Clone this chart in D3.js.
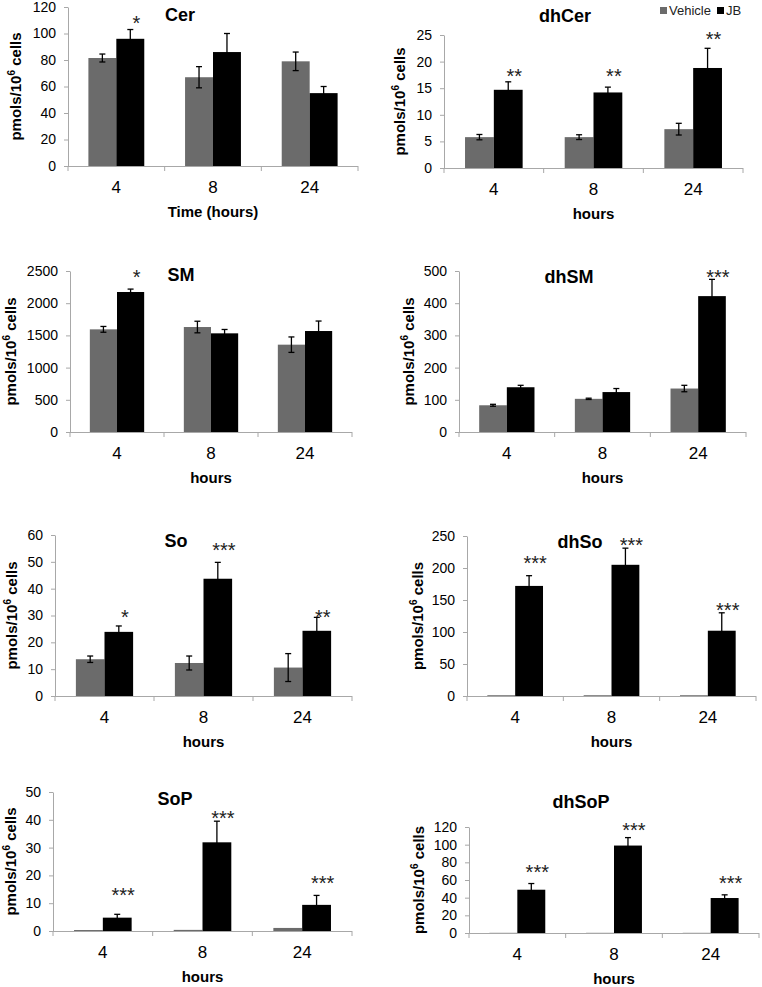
<!DOCTYPE html>
<html>
<head>
<meta charset="utf-8">
<script src="https://cdn.jsdelivr.net/npm/d3@7"></script>
<style>
  body { margin: 0; background: #fff; }
  svg { display: block; font-family: "Liberation Sans", Arial, sans-serif; }
</style>
</head>
<body>
<div id="chart"></div>
<script>
// time points and groups
var hours = ["4", "8", "24"];
var groups = ["Vehicle", "JB"];

// values (pmols / 10^6 cells)
var cerVehicle = [81.5, 67, 79];
var cerVehicleErr = [3, 8, 7];
var cerJB = [96, 86, 55];
var cerJBErr = [7, 14, 5];
var cerStars = ["*", "", ""];
var cerStarAt = [112, 0, 0];

var dhCerVehicle = [5.8, 5.8, 7.3];
var dhCerVehicleErr = [0.5, 0.45, 1.1];
var dhCerJB = [14.7, 14.2, 18.8];
var dhCerJBErr = [1.5, 1.0, 3.7];
var dhCerStars = ["**", "**", "**"];
var dhCerStarAt = [18.2, 18.2, 25.2];

var smVehicle = [1594, 1630, 1356];
var smVehicleErr = [45, 90, 120];
var smJB = [2174, 1532, 1568];
var smJBErr = [45, 60, 155];
var smStars = ["*", "", ""];
var smStarAt = [2484, 0, 0];

var dhSmVehicle = [83, 103, 135];
var dhSmVehicleErr = [3, 2, 10];
var dhSmJB = [139, 124, 422];
var dhSmJBErr = [6, 11, 52];
var dhSmStars = ["", "", "***"];
var dhSmStarAt = [0, 0, 497];

var soVehicle = [13.7, 12.3, 10.6];
var soVehicleErr = [1.2, 2.6, 5.2];
var soJB = [23.9, 43.7, 24.3];
var soJBErr = [2.2, 6.1, 5];
var soStars = ["*", "***", "**"];
var soStarAt = [31.3, 56.3, 31.3];

var dhSoVehicle = [1.2, 1.2, 1.2];
var dhSoVehicleErr = [0, 0, 0];
var dhSoJB = [172, 205, 102];
var dhSoJBErr = [16, 26, 28];
var dhSoStars = ["***", "***", "***"];
var dhSoStarAt = [215, 244, 142];

var sopVehicle = [0.35, 0.4, 1.1];
var sopVehicleErr = [0, 0, 0];
var sopJB = [4.8, 31.9, 9.4];
var sopJBErr = [1.2, 7.6, 3.4];
var sopStars = ["***", "***", "***"];
var sopStarAt = [14.7, 42.4, 19];

var dhSopVehicle = [0.2, 0.2, 0.2];
var dhSopVehicleErr = [0, 0, 0];
var dhSopJB = [49, 99, 39.6];
var dhSopJBErr = [7, 9, 3.6];
var dhSopStars = ["***", "***", "***"];
var dhSopStarAt = [74.7, 122, 62.3];

var W = 762, H = 987;
var colors = {Vehicle: "#6b6b6b", JB: "#000000"};
var axisGray = "#a8a8a8";

var svg = d3.select("#chart").append("svg")
    .attr("width", W)
    .attr("height", H);

// panel placement
var panels = [
  {title: "Cer", x0: 68, x1: 358, yTop: 7, yBot: 166, max: 120, step: 20, ylab: 16, tx: 180, ty: 21, xlab: "Time (hours)",
    veh: cerVehicle, vehErr: cerVehicleErr, jb: cerJB, jbErr: cerJBErr, stars: cerStars, starAt: cerStarAt},
  {title: "dhCer", x0: 444, x1: 743, yTop: 35, yBot: 168, max: 25, step: 5, ylab: 400, tx: 565, ty: 22, xlab: "hours",
    veh: dhCerVehicle, vehErr: dhCerVehicleErr, jb: dhCerJB, jbErr: dhCerJBErr, stars: dhCerStars, starAt: dhCerStarAt},
  {title: "SM", x0: 70, x1: 352, yTop: 271, yBot: 432, max: 2500, step: 500, ylab: 11, tx: 181, ty: 281, xlab: "hours",
    veh: smVehicle, vehErr: smVehicleErr, jb: smJB, jbErr: smJBErr, stars: smStars, starAt: smStarAt},
  {title: "dhSM", x0: 459, x1: 746, yTop: 271, yBot: 432, max: 500, step: 100, ylab: 409, tx: 569, ty: 283, xlab: "hours",
    veh: dhSmVehicle, vehErr: dhSmVehicleErr, jb: dhSmJB, jbErr: dhSmJBErr, stars: dhSmStars, starAt: dhSmStarAt},
  {title: "So", x0: 55, x1: 352, yTop: 535, yBot: 696, max: 60, step: 10, ylab: 12, tx: 176, ty: 547, xlab: "hours",
    veh: soVehicle, vehErr: soVehicleErr, jb: soJB, jbErr: soJBErr, stars: soStars, starAt: soStarAt},
  {title: "dhSo", x0: 467, x1: 756, yTop: 536, yBot: 696, max: 250, step: 50, ylab: 418, tx: 580, ty: 548, xlab: "hours",
    veh: dhSoVehicle, vehErr: dhSoVehicleErr, jb: dhSoJB, jbErr: dhSoJBErr, stars: dhSoStars, starAt: dhSoStarAt},
  {title: "SoP", x0: 53, x1: 352, yTop: 792, yBot: 931, max: 50, step: 10, ylab: 11, tx: 175, ty: 805, xlab: "hours",
    veh: sopVehicle, vehErr: sopVehicleErr, jb: sopJB, jbErr: sopJBErr, stars: sopStars, starAt: sopStarAt},
  {title: "dhSoP", x0: 469, x1: 759, yTop: 827, yBot: 933, max: 120, step: 20, ylab: 419, tx: 581, ty: 808, xlab: "hours",
    veh: dhSopVehicle, vehErr: dhSopVehicleErr, jb: dhSopJB, jbErr: dhSopJBErr, stars: dhSopStars, starAt: dhSopStarAt}
];

panels.forEach(function(p) {
  var g = svg.append("g");

  var x = d3.scaleBand().domain(hours).range([p.x0, p.x1]).padding(0);
  var xg = d3.scaleBand().domain(groups).range([0, x.bandwidth()])
      .paddingInner(0).paddingOuter(0.73);
  var y = d3.scaleLinear().domain([0, p.max]).range([p.yBot, p.yTop]);

  // y axis
  var yAxis = d3.axisLeft(y)
      .tickValues(d3.range(0, p.max + p.step / 2, p.step))
      .tickFormat(d3.format("d"))
      .tickSize(4).tickSizeOuter(0).tickPadding(8);
  var ya = g.append("g").attr("transform", "translate(" + p.x0 + ",0)").call(yAxis);
  ya.select(".domain").attr("stroke", axisGray);
  ya.selectAll(".tick line").attr("stroke", axisGray);
  ya.selectAll(".tick text").attr("fill", "#000").style("font-size", "14px")
      .style("font-family", "'Liberation Sans', Arial, sans-serif");

  // x axis: labels at centres, ticks at category borders
  var xAxis = d3.axisBottom(x).tickSize(0).tickPadding(15);
  var xa = g.append("g").attr("transform", "translate(0," + p.yBot + ")").call(xAxis);
  xa.select(".domain").remove();
  xa.selectAll(".tick text").attr("fill", "#000").style("font-size", "17px")
      .style("font-family", "'Liberation Sans', Arial, sans-serif");

  // bars
  var rows = [];
  hours.forEach(function(h, i) {
    rows.push({h: h, grp: "Vehicle", v: p.veh[i], e: p.vehErr[i]});
    rows.push({h: h, grp: "JB", v: p.jb[i], e: p.jbErr[i]});
  });

  g.selectAll("rect.bar").data(rows).enter().append("rect")
      .attr("class", "bar")
      .attr("x", function(d) { return x(d.h) + xg(d.grp); })
      .attr("y", function(d) { return y(d.v); })
      .attr("width", xg.bandwidth())
      .attr("height", function(d) { return y(0) - y(d.v); })
      .attr("fill", function(d) { return colors[d.grp]; });

  g.append("line")
      .attr("x1", p.x0).attr("x2", p.x1)
      .attr("y1", p.yBot + 0.5).attr("y2", p.yBot + 0.5)
      .attr("stroke", axisGray);
  g.selectAll("line.xtick").data(hours.concat(["end"])).enter().append("line")
      .attr("class", "xtick")
      .attr("x1", function(d) { return d == "end" ? p.x1 : x(d); })
      .attr("x2", function(d) { return d == "end" ? p.x1 : x(d); })
      .attr("y1", p.yBot).attr("y2", p.yBot + 5)
      .attr("stroke", axisGray);

  // error bars
  var eb = g.selectAll("g.err").data(rows.filter(function(d) { return d.e > 0; }))
      .enter().append("g").attr("class", "err")
      .attr("stroke", "#000").attr("stroke-width", 1.3);
  var cx = function(d) { return x(d.h) + xg(d.grp) + xg.bandwidth() / 2; };
  eb.append("line")
      .attr("x1", cx).attr("x2", cx)
      .attr("y1", function(d) { return y(d.v + d.e); })
      .attr("y2", function(d) { return y(Math.max(0, d.v - d.e)); });
  eb.append("line")
      .attr("x1", function(d) { return cx(d) - 3; }).attr("x2", function(d) { return cx(d) + 3; })
      .attr("y1", function(d) { return y(d.v + d.e); })
      .attr("y2", function(d) { return y(d.v + d.e); });
  eb.append("line")
      .attr("x1", function(d) { return cx(d) - 3; }).attr("x2", function(d) { return cx(d) + 3; })
      .attr("y1", function(d) { return y(Math.max(0, d.v - d.e)); })
      .attr("y2", function(d) { return y(Math.max(0, d.v - d.e)); });

  // significance stars
  g.selectAll("text.star").data(hours.filter(function(h, i) { return p.stars[i] != ""; }))
      .enter().append("text")
      .attr("class", "star")
      .attr("x", function(h) { return x(h) + xg("JB") + xg.bandwidth() / 2 + 6; })
      .attr("y", function(h) { return y(p.starAt[hours.indexOf(h)]); })
      .attr("dy", "0.6em")
      .attr("text-anchor", "middle")
      .style("font-size", "20px")
      .attr("fill", "#222")
      .text(function(h) { return p.stars[hours.indexOf(h)]; });

  // title
  g.append("text")
      .attr("x", p.tx).attr("y", p.ty)
      .attr("text-anchor", "middle")
      .style("font-size", "18px").style("font-weight", "bold")
      .text(p.title);

  // axis titles
  g.append("text")
      .attr("x", (p.x0 + p.x1) / 2).attr("y", p.yBot + 51)
      .attr("text-anchor", "middle")
      .style("font-size", "15px").style("font-weight", "bold")
      .text(p.xlab);

  var yl = g.append("text")
      .attr("transform", "translate(" + p.ylab + "," + ((p.yTop + p.yBot) / 2) + ") rotate(-90)")
      .attr("dy", "0.35em")
      .attr("text-anchor", "middle")
      .style("font-size", "15px").style("font-weight", "bold");
  yl.append("tspan").text("pmols/10");
  yl.append("tspan").attr("dy", -6).style("font-size", "10px").text("6");
  yl.append("tspan").attr("dy", 6).text(" cells");
});

// legend (top right)
var leg = svg.append("g").attr("transform", "translate(660,7)");
groups.forEach(function(s, i) {
  var lx = i == 0 ? 0 : 57;
  leg.append("rect").attr("x", lx).attr("y", 0).attr("width", 7).attr("height", 7).attr("fill", colors[s]);
  leg.append("text").attr("x", lx + 9).attr("y", 7.5)
      .style("font-size", "13px").attr("fill", "#222").text(s);
});
</script>
</body>
</html>
